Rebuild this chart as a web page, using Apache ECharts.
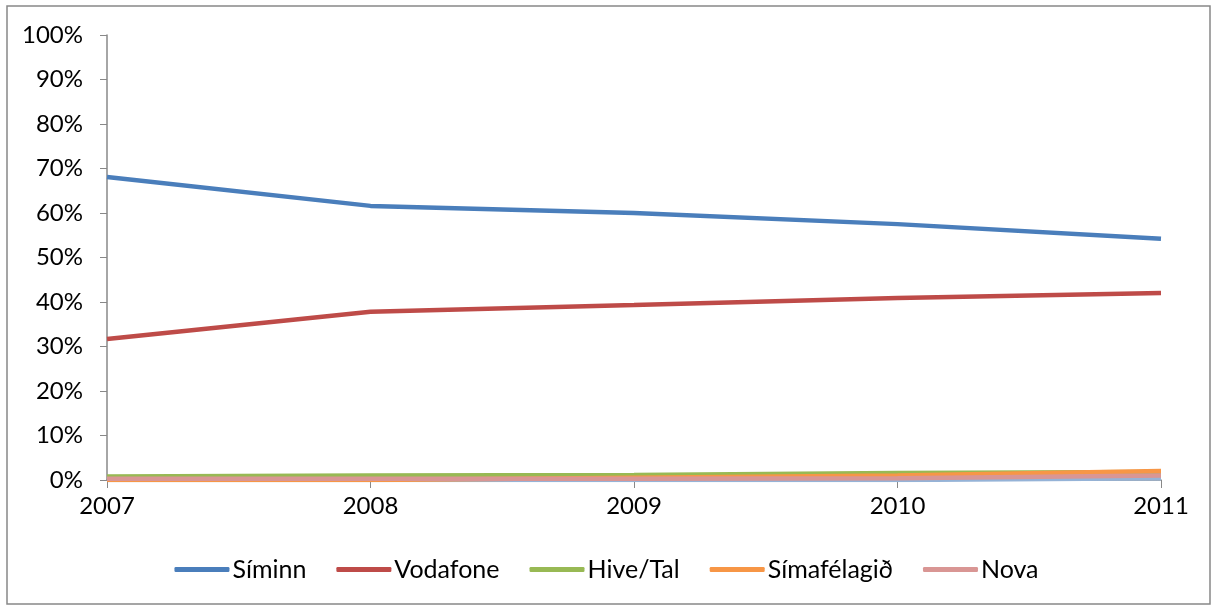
<!DOCTYPE html>
<html><head><meta charset="utf-8">
<script src="https://cdn.jsdelivr.net/npm/echarts@6/dist/echarts.min.js"></script>
<style>html,body{margin:0;padding:0;background:#fff}#c{width:1213px;height:608px}</style>
</head><body><div id="c"></div>
<script>
const years = ['2007','2008','2009','2010','2011'];
const siminn = [68.1, 61.6, 60.0, 57.5, 54.2];
const vodafone = [31.7, 37.8, 39.3, 40.9, 42.0];
const hiveTal = [0.8, 1.0, 1.1, 1.6, 1.8];
const simafelagid = [0, 0, 0.5, 1.0, 2.0];
const nova = [0.3, 0.3, 0.3, 0.4, 1.0];
const other = [0, 0, 0, 0, 0.4];
const names = ['Síminn','Vodafone','Hive/Tal','Símafélagið','Nova'];
const colors = ['#4a7ebb','#be4b48','#98b954','#f79646','#d99694','#95b3d7'];
const font = 'Lato, "Open Sans", sans-serif';
const chart = echarts.init(document.getElementById('c'));
function s(name, data, color, z){
  return {name, type:'line', data, symbol:'none', smooth:false, z,
    lineStyle:{width:4.5, color}, itemStyle:{color}};
}
chart.setOption({
  animation:false,
  graphic:[{type:'rect', shape:{x:7,y:6,width:1203,height:598}, style:{fill:'none', stroke:'#888', lineWidth:1.5}, silent:true}],
  grid:{left:107, right:52, top:35, bottom:128},
  legend:{bottom:21, left:'center', itemWidth:55, itemHeight:5, itemGap:30, icon:'roundRect',
    textStyle:{fontFamily:font, fontSize:25, color:'#000', padding:[0,0,0,-2]}, data:names},
  xAxis:{type:'category', data:years, boundaryGap:false,
    axisLine:{lineStyle:{color:'#888', width:1.5}}, axisTick:{show:true, length:8, lineStyle:{color:'#888'}},
    axisLabel:{fontFamily:font, fontSize:24, color:'#000', margin:14}},
  yAxis:{type:'value', min:0, max:100, interval:10,
    axisLine:{show:true, lineStyle:{color:'#888', width:1.5}}, axisTick:{show:true, length:7, lineStyle:{color:'#888'}},
    splitLine:{show:false},
    axisLabel:{fontFamily:font, fontSize:24, color:'#000', margin:24, formatter:'{value}%'}},
  series:[
    s(names[0], siminn, colors[0], 6),
    s(names[1], vodafone, colors[1], 5),
    s(names[2], hiveTal, colors[2], 2),
    s(names[3], simafelagid, colors[3], 3),
    s(names[4], nova, colors[4], 4),
    s('', other, colors[5], 1)
  ]
});
</script></body></html>
